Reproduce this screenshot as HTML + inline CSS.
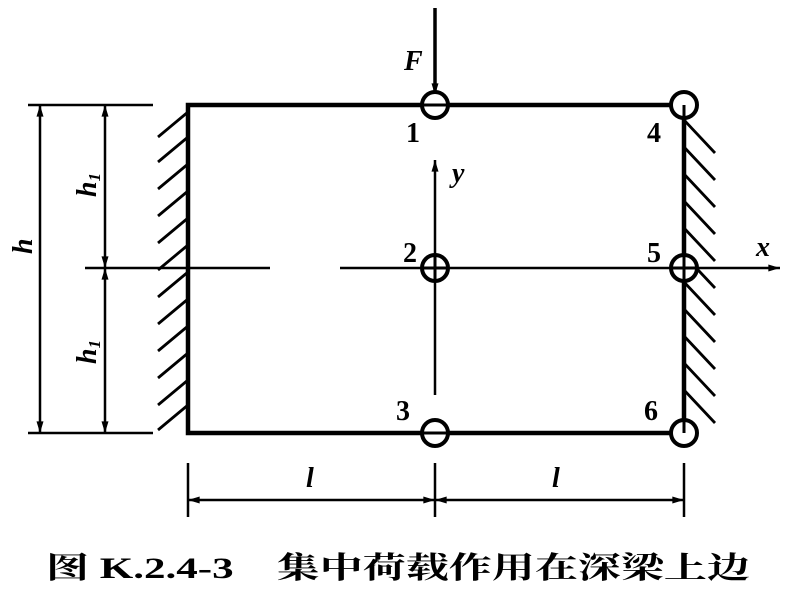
<!DOCTYPE html>
<html><head><meta charset="utf-8"><style>body{margin:0;background:#fff}svg{display:block}</style></head>
<body>
<svg width="800" height="589" viewBox="0 0 800 589" xmlns="http://www.w3.org/2000/svg">
<defs>
<marker id="a" viewBox="0 0 10 6" refX="10" refY="3" markerWidth="16" markerHeight="7" markerUnits="userSpaceOnUse" orient="auto-start-reverse"><path d="M0,0L10,3L0,6z" fill="#000"/></marker>
</defs>
<g stroke="#000" fill="none">
<path d="M188,105H684V433H188Z" stroke-width="4.5"/>
<g stroke-width="2.8">
<path d="M188,112l-30,25M188,137l-30,25M188,164l-30,25M188,191l-30,25M188,218l-30,25M188,245l-30,25M188,272l-30,25M188,299l-30,25M188,326l-30,25M188,353l-30,25M188,380l-30,25M188,405l-30,25"/>
<path d="M684,120l31,33M684,147l31,33M684,174l31,33M684,201l31,33M684,228l31,33M684,255l31,33M684,282l31,33M684,309l31,33M684,336l31,33M684,363l31,33M684,390l31,33"/>
</g>
<g stroke-width="2.5">
<path d="M85,268H270"/>
<path d="M340,268H780" marker-end="url(#a)"/>
<path d="M435,395V160" marker-end="url(#a)"/>
<path d="M435,8V95" stroke-width="3.5" marker-end="url(#a)"/>
</g>
<g stroke-width="2.5">
<path d="M28,105H153M28,433H153"/>
<path d="M40,105V433" marker-start="url(#a)" marker-end="url(#a)"/>
<path d="M105,105V268" marker-start="url(#a)" marker-end="url(#a)"/>
<path d="M105,268V433" marker-start="url(#a)" marker-end="url(#a)"/>
<path d="M188,463V517M435,463V517M684,463V517"/>
<path d="M188,500H435" marker-start="url(#a)" marker-end="url(#a)"/>
<path d="M435,500H684" marker-start="url(#a)" marker-end="url(#a)"/>
</g>
<g stroke-width="4" fill="#fff">
<circle cx="435" cy="105" r="13"/>
<circle cx="435" cy="268" r="13"/>
<circle cx="435" cy="433" r="13"/>
<circle cx="684" cy="105" r="13"/>
<circle cx="684" cy="268" r="13"/>
<circle cx="684" cy="433" r="13"/>
</g>
<g stroke-width="3">
<path d="M422,105H448M422,268H448M435,255V281M422,433H448M671,268H697M684,255V281M684,105V118M684,420V433"/>
</g>
</g>
<g font-family="Liberation Serif, serif" font-size="28" fill="#000" font-weight="bold">
<text x="404" y="70" font-style="italic">F</text>
<text x="406" y="142">1</text>
<text x="647" y="142">4</text>
<text x="403" y="262">2</text>
<text x="647" y="262">5</text>
<text x="396" y="420">3</text>
<text x="644" y="420">6</text>
<text x="452" y="182" font-style="italic">y</text>
<text x="756" y="256" font-style="italic">x</text>
<text x="306" y="487" font-style="italic">l</text>
<text x="552" y="487" font-style="italic">l</text>
<text transform="translate(32,254) rotate(-90)" font-style="italic">h</text>
<text transform="translate(96,197) rotate(-90)" font-style="italic">h<tspan font-size="17" dy="4">1</tspan></text>
<text transform="translate(96,364) rotate(-90)" font-style="italic">h<tspan font-size="17" dy="4">1</tspan></text>
</g>
<text x="46" y="578" font-family="Liberation Serif, 'Noto Serif CJK SC', serif" font-size="30" font-weight="bold" textLength="704" lengthAdjust="spacingAndGlyphs" fill="#000">图 K.2.4-3　集中荷载作用在深梁上边</text>
</svg>
</body></html>
